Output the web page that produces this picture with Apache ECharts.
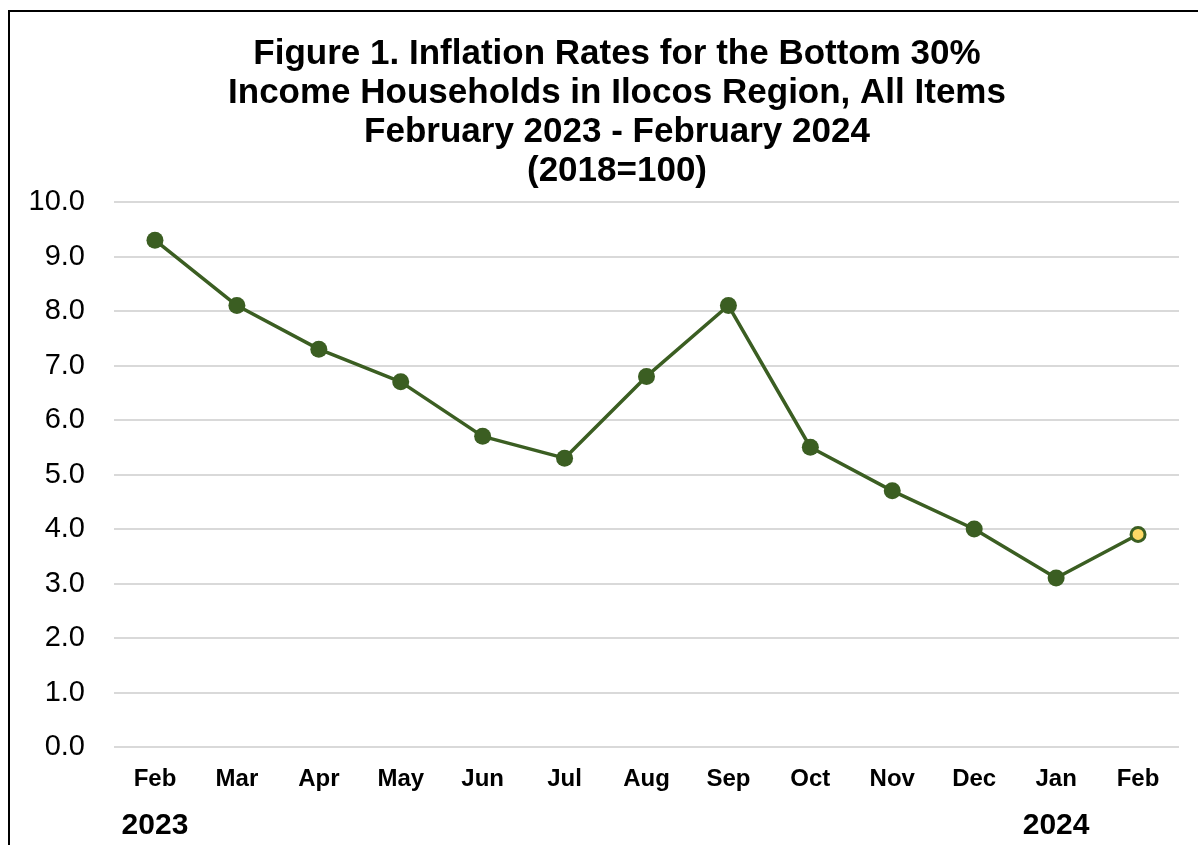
<!DOCTYPE html>
<html>
<head>
<meta charset="utf-8">
<script src="https://cdn.jsdelivr.net/npm/echarts@6/dist/echarts.min.js"></script>
<style>
  html, body { margin: 0; padding: 0; background: #fff; }
  #chart { width: 1198px; height: 845px; }
</style>
</head>
<body>
<div id="chart"></div>
<script>
// data
var months = ['Feb', 'Mar', 'Apr', 'May', 'Jun', 'Jul', 'Aug', 'Sep', 'Oct', 'Nov', 'Dec', 'Jan', 'Feb'];
var yearLabels = ['2023', '', '', '', '', '', '', '', '', '', '', '2024', ''];
var rates = [9.3, 8.1, 7.3, 6.7, 5.7, 5.3, 6.8, 8.1, 5.5, 4.7, 4.0, 3.1, 3.9];
var titleLines = [
  'Figure 1. Inflation Rates for the Bottom 30%',
  'Income Households in Ilocos Region, All Items',
  'February 2023 - February 2024',
  '(2018=100)'
];

(function() {
  var chartDom = document.getElementById('chart');
  var myChart = echarts.init(chartDom);
  var option;

  var lineColor = '#3b5e22';

  // 最后一个点用黄色填充
  var seriesData = rates.map(function(v, i) {
    if (i === rates.length - 1) {
      return {
        value: v,
        symbolSize: 14,
        itemStyle: { color: '#ffd966', borderColor: lineColor, borderWidth: 3 }
      };
    }
    return v;
  });

  option = {
    animation: false,
    textStyle: { fontFamily: 'Liberation Sans, Arial, sans-serif' },
    title: {
      text: titleLines.join('\n'),
      left: 612,
      top: 30,
      textAlign: 'center',
      textStyle: {
        color: '#000',
        fontSize: 35,
        fontWeight: 'bold',
        lineHeight: 39,
        fontFamily: 'Liberation Sans, Arial, sans-serif'
      }
    },
    graphic: [
      {
        type: 'polyline',
        shape: { points: [[9, 845], [9, 11], [1198, 11]] },
        style: { stroke: '#000', lineWidth: 2, fill: null }
      }
    ],
    grid: {
      left: 114,
      right: 19,
      top: 202,
      bottom: 98,
      containLabel: false
    },
    xAxis: [
      {
        type: 'category',
        data: months,
        boundaryGap: true,
        axisLine: { show: false },
        axisTick: { show: false },
        axisLabel: {
          color: '#000',
          fontSize: 24,
          fontWeight: 'bold',
          margin: 20,
          interval: 0
        }
      },
      {
        type: 'category',
        data: yearLabels,
        position: 'bottom',
        boundaryGap: true,
        axisLine: { show: false },
        axisTick: { show: false },
        axisLabel: {
          color: '#000',
          fontSize: 30,
          fontWeight: 'bold',
          margin: 64,
          interval: 0
        }
      }
    ],
    yAxis: {
      type: 'value',
      min: 0,
      max: 10,
      interval: 1,
      axisLine: { show: false },
      axisTick: { show: false },
      axisLabel: {
        color: '#000',
        fontSize: 29,
        margin: 29,
        formatter: function(v) { return v.toFixed(1); }
      },
      splitLine: {
        lineStyle: { color: '#d9d9d9', width: 2 }
      }
    },
    series: [
      {
        type: 'line',
        data: seriesData,
        symbol: 'circle',
        symbolSize: 17,
        lineStyle: { color: lineColor, width: 3.5 },
        itemStyle: { color: lineColor }
      }
    ]
  };

  option && myChart.setOption(option);
})();
</script>
</body>
</html>
